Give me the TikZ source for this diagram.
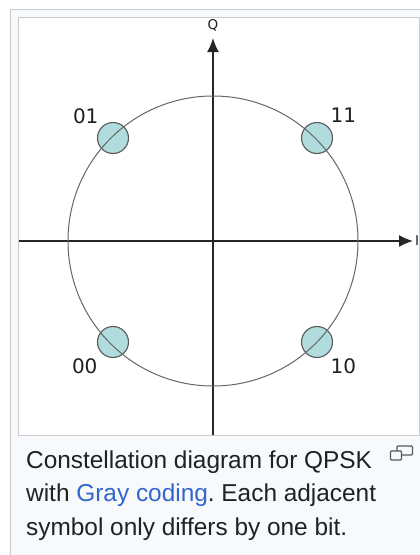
\documentclass[tikz,border=0pt]{standalone}
\usepackage{fontspec}
\setmainfont{Liberation Sans}
\newfontfamily\dejavu{DejaVu Sans}
\usetikzlibrary{arrows.meta,positioning}
\definecolor{framegray}{HTML}{C8CCD1}
\definecolor{captionbg}{HTML}{F8F9FA}
\definecolor{dotfill}{HTML}{B0DCDD}
\definecolor{textgray}{HTML}{202122}
\definecolor{linkblue}{HTML}{3366CC}
\definecolor{icongray}{HTML}{54595D}
\frenchspacing

\begin{document}
\begin{tikzpicture}[x=1pt, y=-1pt, every node/.style={inner sep=0pt}]
    \tikzstyle{symbol} = [circle, draw=black!65, line width=1.1pt, fill=dotfill, minimum size=31pt]
    \tikzstyle{bits} = [font=\dejavu\fontsize{20}{20}\selectfont, text=black!88]
    \tikzstyle{axislabel} = [font=\dejavu\fontsize{13.5}{13.5}\selectfont, text=black!88]
    \tikzstyle{axis} = [-{Latex[length=14pt, width=12pt]}, line width=1.6pt, black!85]
    \tikzstyle{caption} = [anchor=base west, font=\fontsize{24.4}{33.5}\selectfont, text=textgray]
    \useasboundingbox (0,0) rectangle (420,555);

    % frame and image box
    \fill[white] (0,0) rectangle (420,555);
    \draw[framegray, fill=captionbg, line width=1pt] (10.5,9.5) rectangle (440,580);
    \draw[framegray, fill=white, line width=1pt] (18.5,17.5) rectangle (419.5,435.5);

    % axes
    \coordinate (origin) at (213,241);
    \coordinate (west) at (19,241);
    \coordinate (east) at (413,241);
    \coordinate (south) at (213,435);
    \coordinate (north) at (213,38);
    \draw[axis] (west) -- (east);
    \draw[axis] (south) -- (north);
    \node (q) [axislabel, above=7pt of north] {Q};
    \node (i) [axislabel, right=2pt of east] {I};

    % symbols
    \node (s01) [symbol] at (113,138) {};
    \node (s11) [symbol] at (317,138) {};
    \node (s00) [symbol] at (113,342) {};
    \node (s10) [symbol] at (317,342) {};
    \draw[black!60, line width=1pt] (origin) circle[radius=145pt];

    \node (b01) [bits, above left=3pt and 3pt of s01] {01};
    \node (b11) [bits, above right=3.5pt and 2pt of s11] {11};
    \node (b00) [bits, below left=5.5pt and 4pt of s00] {00};
    \node (b10) [bits, below right=5.5pt and 2pt of s10] {10};

    % caption
    \node (cap1) [caption] at (26,468) {Constellation diagram for QPSK};
    \node (cap2) [caption] at (26,501.5) {with \textcolor{linkblue}{Gray coding}. Each adjacent};
    \node (cap3) [caption] at (26,535) {symbol only differs by one bit.};
    \draw[icongray, line width=1.3pt, rounded corners=1pt] (397,446) rectangle (412.5,455);
    \draw[icongray, fill=captionbg, line width=1.3pt, rounded corners=1pt] (390.5,451) rectangle (401.5,460);
\end{tikzpicture}
\end{document}
